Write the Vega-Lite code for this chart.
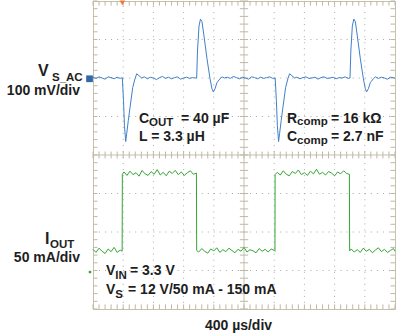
{
  "$schema": "https://vega.github.io/schema/vega-lite/v6.json",
  "width": 302,
  "height": 308,
  "autosize": {"type": "none"},
  "padding": {"left": 93, "top": 1, "right": 1, "bottom": 26},
  "background": "white",
  "config": {
    "view": {"stroke": "#c5c1ad", "strokeWidth": 1},
    "text": {"font": "Liberation Sans", "fontWeight": "bold", "fill": "#1e1e1e"}
  },
  "datasets": {
    "vgrid": [{"t": 400}, {"t": 800}, {"t": 1200}, {"t": 1600}, {"t": 2400}, {"t": 2800}, {"t": 3200}, {"t": 3600}],
    "hgrid": [{"v": 1}, {"v": 2}, {"v": 3}, {"v": 5}, {"v": 6}, {"v": 7}],
    "center": [{"t": 2000, "v": 4}],
    "xminor": [{"t":0},{"t":80},{"t":160},{"t":240},{"t":320},{"t":400},{"t":480},{"t":560},{"t":640},{"t":720},{"t":800},{"t":880},{"t":960},{"t":1040},{"t":1120},{"t":1200},{"t":1280},{"t":1360},{"t":1440},{"t":1520},{"t":1600},{"t":1680},{"t":1760},{"t":1840},{"t":1920},{"t":2000},{"t":2080},{"t":2160},{"t":2240},{"t":2320},{"t":2400},{"t":2480},{"t":2560},{"t":2640},{"t":2720},{"t":2800},{"t":2880},{"t":2960},{"t":3040},{"t":3120},{"t":3200},{"t":3280},{"t":3360},{"t":3440},{"t":3520},{"t":3600},{"t":3680},{"t":3760},{"t":3840},{"t":3920},{"t":4000}],
    "yminor": [{"v":0},{"v":0.2},{"v":0.4},{"v":0.6},{"v":0.8},{"v":1},{"v":1.2},{"v":1.4},{"v":1.6},{"v":1.8},{"v":2},{"v":2.2},{"v":2.4},{"v":2.6},{"v":2.8},{"v":3},{"v":3.2},{"v":3.4},{"v":3.6},{"v":3.8},{"v":4},{"v":4.2},{"v":4.4},{"v":4.6},{"v":4.8},{"v":5},{"v":5.2},{"v":5.4},{"v":5.6},{"v":5.8},{"v":6},{"v":6.2},{"v":6.4},{"v":6.6},{"v":6.8},{"v":7},{"v":7.2},{"v":7.4},{"v":7.6},{"v":7.8},{"v":8}],
    "traces": [
      {"ch":"V_S_AC","t":0,"v":6.02},{"ch":"V_S_AC","t":40,"v":5.99},{"ch":"V_S_AC","t":80,"v":6.03},{"ch":"V_S_AC","t":120,"v":6.0},{"ch":"V_S_AC","t":160,"v":5.97},{"ch":"V_S_AC","t":200,"v":6.03},{"ch":"V_S_AC","t":240,"v":6.01},{"ch":"V_S_AC","t":280,"v":5.98},{"ch":"V_S_AC","t":320,"v":6.02},{"ch":"V_S_AC","t":360,"v":5.99},{"ch":"V_S_AC","t":388,"v":6.01},
      {"ch":"V_S_AC","t":404,"v":5.41},{"ch":"V_S_AC","t":417,"v":4.76},{"ch":"V_S_AC","t":433,"v":4.35},{"ch":"V_S_AC","t":446,"v":4.55},{"ch":"V_S_AC","t":468,"v":4.9},{"ch":"V_S_AC","t":490,"v":5.23},{"ch":"V_S_AC","t":526,"v":5.75},{"ch":"V_S_AC","t":556,"v":5.98},{"ch":"V_S_AC","t":579,"v":6.11},{"ch":"V_S_AC","t":609,"v":6.06},{"ch":"V_S_AC","t":645,"v":6.0},
      {"ch":"V_S_AC","t":680,"v":6.03},{"ch":"V_S_AC","t":720,"v":5.98},{"ch":"V_S_AC","t":760,"v":6.02},{"ch":"V_S_AC","t":800,"v":6.0},{"ch":"V_S_AC","t":840,"v":5.96},{"ch":"V_S_AC","t":880,"v":6.01},{"ch":"V_S_AC","t":920,"v":6.04},{"ch":"V_S_AC","t":960,"v":5.99},{"ch":"V_S_AC","t":1000,"v":6.02},{"ch":"V_S_AC","t":1040,"v":5.98},{"ch":"V_S_AC","t":1080,"v":6.01},{"ch":"V_S_AC","t":1120,"v":6.03},{"ch":"V_S_AC","t":1160,"v":5.97},{"ch":"V_S_AC","t":1200,"v":6.0},{"ch":"V_S_AC","t":1240,"v":6.02},{"ch":"V_S_AC","t":1280,"v":5.99},{"ch":"V_S_AC","t":1320,"v":6.01},{"ch":"V_S_AC","t":1360,"v":6.0},
      {"ch":"V_S_AC","t":1373,"v":6.0},{"ch":"V_S_AC","t":1384,"v":6.7},{"ch":"V_S_AC","t":1404,"v":7.35},{"ch":"V_S_AC","t":1424,"v":7.53},{"ch":"V_S_AC","t":1444,"v":7.46},{"ch":"V_S_AC","t":1470,"v":7.09},{"ch":"V_S_AC","t":1510,"v":6.5},{"ch":"V_S_AC","t":1550,"v":5.98},{"ch":"V_S_AC","t":1576,"v":5.72},{"ch":"V_S_AC","t":1593,"v":5.64},{"ch":"V_S_AC","t":1616,"v":5.72},{"ch":"V_S_AC","t":1642,"v":5.88},{"ch":"V_S_AC","t":1682,"v":5.98},{"ch":"V_S_AC","t":1709,"v":6.03},
      {"ch":"V_S_AC","t":1740,"v":6.0},{"ch":"V_S_AC","t":1780,"v":6.02},{"ch":"V_S_AC","t":1820,"v":5.99},{"ch":"V_S_AC","t":1860,"v":6.04},{"ch":"V_S_AC","t":1900,"v":6.01},{"ch":"V_S_AC","t":1940,"v":5.98},{"ch":"V_S_AC","t":1980,"v":6.02},{"ch":"V_S_AC","t":2020,"v":6.0},{"ch":"V_S_AC","t":2060,"v":5.97},{"ch":"V_S_AC","t":2100,"v":6.03},{"ch":"V_S_AC","t":2140,"v":6.01},{"ch":"V_S_AC","t":2180,"v":5.98},{"ch":"V_S_AC","t":2220,"v":6.02},{"ch":"V_S_AC","t":2260,"v":5.99},{"ch":"V_S_AC","t":2300,"v":6.01},{"ch":"V_S_AC","t":2340,"v":6.03},{"ch":"V_S_AC","t":2380,"v":5.99},
      {"ch":"V_S_AC","t":2413,"v":6.0},{"ch":"V_S_AC","t":2429,"v":5.41},{"ch":"V_S_AC","t":2442,"v":4.76},{"ch":"V_S_AC","t":2458,"v":4.35},{"ch":"V_S_AC","t":2471,"v":4.55},{"ch":"V_S_AC","t":2493,"v":4.9},{"ch":"V_S_AC","t":2515,"v":5.23},{"ch":"V_S_AC","t":2551,"v":5.75},{"ch":"V_S_AC","t":2581,"v":5.98},{"ch":"V_S_AC","t":2604,"v":6.11},{"ch":"V_S_AC","t":2634,"v":6.06},{"ch":"V_S_AC","t":2670,"v":6.0},
      {"ch":"V_S_AC","t":2700,"v":6.02},{"ch":"V_S_AC","t":2740,"v":5.98},{"ch":"V_S_AC","t":2780,"v":6.01},{"ch":"V_S_AC","t":2820,"v":6.03},{"ch":"V_S_AC","t":2860,"v":5.99},{"ch":"V_S_AC","t":2900,"v":6.0},{"ch":"V_S_AC","t":2940,"v":6.02},{"ch":"V_S_AC","t":2980,"v":5.97},{"ch":"V_S_AC","t":3020,"v":6.01},{"ch":"V_S_AC","t":3060,"v":6.03},{"ch":"V_S_AC","t":3100,"v":5.99},{"ch":"V_S_AC","t":3140,"v":6.0},{"ch":"V_S_AC","t":3180,"v":6.02},{"ch":"V_S_AC","t":3220,"v":5.98},{"ch":"V_S_AC","t":3260,"v":6.01},{"ch":"V_S_AC","t":3300,"v":6.0},{"ch":"V_S_AC","t":3340,"v":6.03},{"ch":"V_S_AC","t":3380,"v":5.99},
      {"ch":"V_S_AC","t":3404,"v":6.0},{"ch":"V_S_AC","t":3415,"v":6.7},{"ch":"V_S_AC","t":3435,"v":7.35},{"ch":"V_S_AC","t":3455,"v":7.53},{"ch":"V_S_AC","t":3475,"v":7.46},{"ch":"V_S_AC","t":3501,"v":7.09},{"ch":"V_S_AC","t":3541,"v":6.5},{"ch":"V_S_AC","t":3581,"v":5.98},{"ch":"V_S_AC","t":3607,"v":5.72},{"ch":"V_S_AC","t":3624,"v":5.64},{"ch":"V_S_AC","t":3647,"v":5.72},{"ch":"V_S_AC","t":3673,"v":5.88},{"ch":"V_S_AC","t":3713,"v":5.98},{"ch":"V_S_AC","t":3740,"v":6.03},
      {"ch":"V_S_AC","t":3780,"v":5.99},{"ch":"V_S_AC","t":3820,"v":6.02},{"ch":"V_S_AC","t":3860,"v":6.0},{"ch":"V_S_AC","t":3900,"v":5.97},{"ch":"V_S_AC","t":3940,"v":6.02},{"ch":"V_S_AC","t":3980,"v":6.01},{"ch":"V_S_AC","t":4000,"v":5.99},
      {"ch":"I_OUT","t":0,"v":1.55},{"ch":"I_OUT","t":40,"v":1.47},{"ch":"I_OUT","t":80,"v":1.58},{"ch":"I_OUT","t":120,"v":1.5},{"ch":"I_OUT","t":160,"v":1.44},{"ch":"I_OUT","t":200,"v":1.56},{"ch":"I_OUT","t":240,"v":1.49},{"ch":"I_OUT","t":280,"v":1.6},{"ch":"I_OUT","t":320,"v":1.47},{"ch":"I_OUT","t":360,"v":1.53},{"ch":"I_OUT","t":386,"v":1.5},
      {"ch":"I_OUT","t":389,"v":3.5},{"ch":"I_OUT","t":410,"v":3.56},{"ch":"I_OUT","t":450,"v":3.47},{"ch":"I_OUT","t":490,"v":3.58},{"ch":"I_OUT","t":530,"v":3.49},{"ch":"I_OUT","t":570,"v":3.54},{"ch":"I_OUT","t":610,"v":3.45},{"ch":"I_OUT","t":650,"v":3.6},{"ch":"I_OUT","t":690,"v":3.51},{"ch":"I_OUT","t":730,"v":3.47},{"ch":"I_OUT","t":770,"v":3.57},{"ch":"I_OUT","t":810,"v":3.5},{"ch":"I_OUT","t":850,"v":3.62},{"ch":"I_OUT","t":890,"v":3.48},{"ch":"I_OUT","t":930,"v":3.55},{"ch":"I_OUT","t":970,"v":3.46},{"ch":"I_OUT","t":1010,"v":3.58},{"ch":"I_OUT","t":1050,"v":3.52},{"ch":"I_OUT","t":1090,"v":3.6},{"ch":"I_OUT","t":1130,"v":3.49},{"ch":"I_OUT","t":1170,"v":3.56},{"ch":"I_OUT","t":1210,"v":3.47},{"ch":"I_OUT","t":1250,"v":3.54},{"ch":"I_OUT","t":1290,"v":3.59},{"ch":"I_OUT","t":1330,"v":3.5},{"ch":"I_OUT","t":1370,"v":3.53},
      {"ch":"I_OUT","t":1373,"v":1.52},{"ch":"I_OUT","t":1400,"v":1.48},{"ch":"I_OUT","t":1440,"v":1.57},{"ch":"I_OUT","t":1480,"v":1.5},{"ch":"I_OUT","t":1520,"v":1.45},{"ch":"I_OUT","t":1560,"v":1.56},{"ch":"I_OUT","t":1600,"v":1.51},{"ch":"I_OUT","t":1640,"v":1.59},{"ch":"I_OUT","t":1680,"v":1.47},{"ch":"I_OUT","t":1720,"v":1.54},{"ch":"I_OUT","t":1760,"v":1.49},{"ch":"I_OUT","t":1800,"v":1.58},{"ch":"I_OUT","t":1840,"v":1.52},{"ch":"I_OUT","t":1880,"v":1.46},{"ch":"I_OUT","t":1920,"v":1.55},{"ch":"I_OUT","t":1960,"v":1.5},{"ch":"I_OUT","t":2000,"v":1.6},{"ch":"I_OUT","t":2040,"v":1.48},{"ch":"I_OUT","t":2080,"v":1.54},{"ch":"I_OUT","t":2120,"v":1.51},{"ch":"I_OUT","t":2160,"v":1.46},{"ch":"I_OUT","t":2200,"v":1.57},{"ch":"I_OUT","t":2240,"v":1.5},{"ch":"I_OUT","t":2280,"v":1.55},{"ch":"I_OUT","t":2320,"v":1.48},{"ch":"I_OUT","t":2360,"v":1.56},{"ch":"I_OUT","t":2400,"v":1.52},{"ch":"I_OUT","t":2410,"v":1.5},
      {"ch":"I_OUT","t":2412,"v":3.49},{"ch":"I_OUT","t":2440,"v":3.55},{"ch":"I_OUT","t":2480,"v":3.48},{"ch":"I_OUT","t":2520,"v":3.59},{"ch":"I_OUT","t":2560,"v":3.5},{"ch":"I_OUT","t":2600,"v":3.46},{"ch":"I_OUT","t":2640,"v":3.57},{"ch":"I_OUT","t":2680,"v":3.52},{"ch":"I_OUT","t":2720,"v":3.61},{"ch":"I_OUT","t":2760,"v":3.49},{"ch":"I_OUT","t":2800,"v":3.54},{"ch":"I_OUT","t":2840,"v":3.47},{"ch":"I_OUT","t":2880,"v":3.58},{"ch":"I_OUT","t":2920,"v":3.51},{"ch":"I_OUT","t":2960,"v":3.63},{"ch":"I_OUT","t":3000,"v":3.5},{"ch":"I_OUT","t":3040,"v":3.55},{"ch":"I_OUT","t":3080,"v":3.48},{"ch":"I_OUT","t":3120,"v":3.57},{"ch":"I_OUT","t":3160,"v":3.53},{"ch":"I_OUT","t":3200,"v":3.46},{"ch":"I_OUT","t":3240,"v":3.56},{"ch":"I_OUT","t":3280,"v":3.51},{"ch":"I_OUT","t":3320,"v":3.59},{"ch":"I_OUT","t":3360,"v":3.52},{"ch":"I_OUT","t":3396,"v":3.5},
      {"ch":"I_OUT","t":3399,"v":1.51},{"ch":"I_OUT","t":3420,"v":1.56},{"ch":"I_OUT","t":3460,"v":1.48},{"ch":"I_OUT","t":3500,"v":1.54},{"ch":"I_OUT","t":3540,"v":1.47},{"ch":"I_OUT","t":3580,"v":1.58},{"ch":"I_OUT","t":3620,"v":1.5},{"ch":"I_OUT","t":3660,"v":1.55},{"ch":"I_OUT","t":3700,"v":1.46},{"ch":"I_OUT","t":3740,"v":1.53},{"ch":"I_OUT","t":3780,"v":1.59},{"ch":"I_OUT","t":3820,"v":1.49},{"ch":"I_OUT","t":3860,"v":1.55},{"ch":"I_OUT","t":3900,"v":1.47},{"ch":"I_OUT","t":3940,"v":1.52},{"ch":"I_OUT","t":3980,"v":1.57},{"ch":"I_OUT","t":4000,"v":1.5}
    ],
    "markers": [
      {"kind": "trigger", "t": 388, "v": 7.95},
      {"kind": "ch1", "t": -46, "v": 5.98},
      {"kind": "ch2", "t": -40, "v": 0.96}
    ],
    "labels": [
      {"role":"name","t":-728,"v":6.057,"text":"V"},
      {"role":"sub","t":-543,"v":5.93,"text":"S_AC"},
      {"role":"scale","t":-172,"v":5.565,"text":"100 mV/div"},
      {"role":"name","t":-636,"v":1.679,"text":"I"},
      {"role":"sub","t":-570,"v":1.575,"text":"OUT"},
      {"role":"scale","t":-172,"v":1.212,"text":"50 mA/div"},
      {"role":"main","t":609,"v":4.839,"text":"C"},
      {"role":"sub","t":742,"v":4.766,"text":"OUT"},
      {"role":"main","t":1166,"v":4.839,"text":"= 40 µF"},
      {"role":"main","t":609,"v":4.36,"text":"L = 3.3 µH"},
      {"role":"main","t":2570,"v":4.839,"text":"R"},
      {"role":"sub","t":2702,"v":4.775,"text":"comp"},
      {"role":"main","t":3152,"v":4.839,"text":"= 16 kΩ"},
      {"role":"main","t":2570,"v":4.373,"text":"C"},
      {"role":"sub","t":2702,"v":4.295,"text":"comp"},
      {"role":"main","t":3152,"v":4.373,"text":"= 2.7 nF"},
      {"role":"main","t":172,"v":0.876,"text":"V"},
      {"role":"sub","t":294,"v":0.772,"text":"IN"},
      {"role":"main","t":490,"v":0.876,"text":"= 3.3 V"},
      {"role":"main","t":172,"v":0.383,"text":"V"},
      {"role":"sub","t":294,"v":0.28,"text":"S"},
      {"role":"main","t":464,"v":0.383,"text":"= 12 V/50 mA - 150 mA"},
      {"role":"time","t":1927,"v":-0.549,"text":"400 µs/div"}
    ]
  },
  "layer": [
    {"data": {"name": "vgrid"}, "mark": {"type": "rule", "color": "#a8a8a8", "strokeDash": [1, 5.04], "strokeWidth": 1},
     "encoding": {"x": {"field": "t", "type": "quantitative", "scale": {"domain": [0, 4000], "nice": false, "zero": false}, "axis": null},
                  "y": {"datum": 0, "scale": {"domain": [0, 8], "nice": false, "zero": false}, "axis": null}, "y2": {"datum": 8}}},
    {"data": {"name": "hgrid"}, "mark": {"type": "rule", "color": "#a8a8a8", "strokeDash": [1, 5.04], "strokeWidth": 1},
     "encoding": {"y": {"field": "v", "type": "quantitative", "scale": {"domain": [0, 8], "nice": false, "zero": false}, "axis": null},
                  "x": {"datum": 0}, "x2": {"datum": 4000}}},
    {"data": {"name": "center"}, "mark": {"type": "rule", "color": "#c5c1ad", "strokeWidth": 1},
     "encoding": {"x": {"field": "t", "type": "quantitative"}, "y": {"datum": 0}, "y2": {"datum": 8}}},
    {"data": {"name": "center"}, "mark": {"type": "rule", "color": "#c5c1ad", "strokeWidth": 1},
     "encoding": {"y": {"field": "v", "type": "quantitative"}, "x": {"datum": 0}, "x2": {"datum": 4000}}},
    {"data": {"name": "xminor"}, "mark": {"type": "rule", "color": "#bdb9a4", "strokeWidth": 1},
     "encoding": {"x": {"field": "t", "type": "quantitative"}, "y": {"datum": 0}, "y2": {"datum": 0.12}}},
    {"data": {"name": "xminor"}, "mark": {"type": "rule", "color": "#bdb9a4", "strokeWidth": 1},
     "encoding": {"x": {"field": "t", "type": "quantitative"}, "y": {"datum": 8}, "y2": {"datum": 7.88}}},
    {"data": {"name": "xminor"}, "mark": {"type": "rule", "color": "#bdb9a4", "strokeWidth": 1},
     "encoding": {"x": {"field": "t", "type": "quantitative"}, "y": {"datum": 3.91}, "y2": {"datum": 4.09}}},
    {"data": {"name": "yminor"}, "mark": {"type": "rule", "color": "#bdb9a4", "strokeWidth": 1},
     "encoding": {"y": {"field": "v", "type": "quantitative"}, "x": {"datum": 0}, "x2": {"datum": 60}}},
    {"data": {"name": "yminor"}, "mark": {"type": "rule", "color": "#bdb9a4", "strokeWidth": 1},
     "encoding": {"y": {"field": "v", "type": "quantitative"}, "x": {"datum": 4000}, "x2": {"datum": 3940}}},
    {"data": {"name": "yminor"}, "mark": {"type": "rule", "color": "#bdb9a4", "strokeWidth": 1},
     "encoding": {"y": {"field": "v", "type": "quantitative"}, "x": {"datum": 1945}, "x2": {"datum": 2055}}},
    {"data": {"name": "traces"}, "mark": {"type": "line", "strokeWidth": 1, "interpolate": "linear"},
     "encoding": {"x": {"field": "t", "type": "quantitative"}, "y": {"field": "v", "type": "quantitative"},
                  "color": {"field": "ch", "type": "nominal", "scale": {"domain": ["V_S_AC", "I_OUT"], "range": ["#3f80c8", "#35a535"]}, "legend": null}}},
    {"data": {"name": "markers"}, "transform": [{"filter": "datum.kind === 'trigger'"}],
     "mark": {"type": "point", "shape": "triangle-down", "filled": true, "size": 30, "color": "#ee7733", "opacity": 1},
     "encoding": {"x": {"field": "t", "type": "quantitative"}, "y": {"field": "v", "type": "quantitative"}}},
    {"data": {"name": "markers"}, "transform": [{"filter": "datum.kind === 'ch1'"}],
     "mark": {"type": "point", "shape": "square", "filled": true, "size": 45, "color": "#3366aa", "opacity": 1},
     "encoding": {"x": {"field": "t", "type": "quantitative"}, "y": {"field": "v", "type": "quantitative"}}},
    {"data": {"name": "markers"}, "transform": [{"filter": "datum.kind === 'ch2'"}],
     "mark": {"type": "point", "shape": "circle", "filled": true, "size": 8, "color": "#35a535", "opacity": 1},
     "encoding": {"x": {"field": "t", "type": "quantitative"}, "y": {"field": "v", "type": "quantitative"}}},
    {"data": {"name": "labels"}, "transform": [{"filter": "datum.role === 'name'"}],
     "mark": {"type": "text", "fontSize": 16, "align": "left", "baseline": "alphabetic"},
     "encoding": {"x": {"field": "t", "type": "quantitative"}, "y": {"field": "v", "type": "quantitative"}, "text": {"field": "text"}}},
    {"data": {"name": "labels"}, "transform": [{"filter": "datum.role === 'main'"}],
     "mark": {"type": "text", "fontSize": 14, "align": "left", "baseline": "alphabetic"},
     "encoding": {"x": {"field": "t", "type": "quantitative"}, "y": {"field": "v", "type": "quantitative"}, "text": {"field": "text"}}},
    {"data": {"name": "labels"}, "transform": [{"filter": "datum.role === 'sub'"}],
     "mark": {"type": "text", "fontSize": 11.5, "align": "left", "baseline": "alphabetic"},
     "encoding": {"x": {"field": "t", "type": "quantitative"}, "y": {"field": "v", "type": "quantitative"}, "text": {"field": "text"}}},
    {"data": {"name": "labels"}, "transform": [{"filter": "datum.role === 'scale'"}],
     "mark": {"type": "text", "fontSize": 14, "align": "right", "baseline": "alphabetic"},
     "encoding": {"x": {"field": "t", "type": "quantitative"}, "y": {"field": "v", "type": "quantitative"}, "text": {"field": "text"}}},
    {"data": {"name": "labels"}, "transform": [{"filter": "datum.role === 'time'"}],
     "mark": {"type": "text", "fontSize": 14, "align": "center", "baseline": "alphabetic"},
     "encoding": {"x": {"field": "t", "type": "quantitative"}, "y": {"field": "v", "type": "quantitative"}, "text": {"field": "text"}}}
  ]
}
